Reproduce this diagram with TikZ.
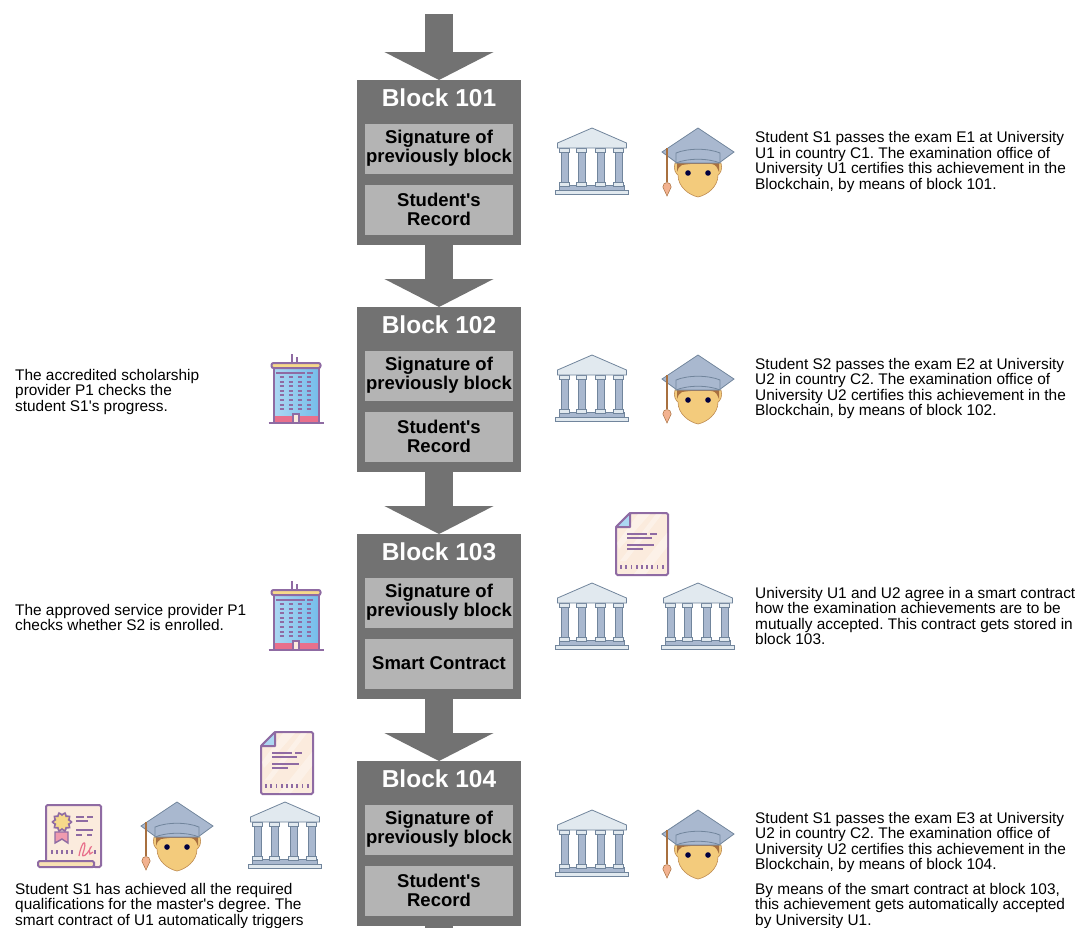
\documentclass[tikz,border=0pt]{standalone}
\usepackage{fontspec}
\setmainfont{Liberation Sans}[Ligatures = TeXOff]
\usetikzlibrary{arrows.meta}

% Colours of the icons.
\definecolor{blockgrey}{HTML}{727272}
\definecolor{fieldgrey}{HTML}{B4B4B4}
\definecolor{roofblue}{HTML}{E1E9EF}
\definecolor{slateblue}{HTML}{A9B8CF}
\definecolor{slateedge}{HTML}{71859C}
\definecolor{skintone}{HTML}{F3CB7C}
\definecolor{hairbrown}{HTML}{A8703F}
\definecolor{tasselpink}{HTML}{F2B290}
\definecolor{iconpurple}{HTML}{8F6BA3}
\definecolor{paperpeach}{HTML}{FBEBDD}
\definecolor{glassblue}{HTML}{75BDEA}
\definecolor{basepink}{HTML}{E8708C}
\definecolor{roofyellow}{HTML}{F6D98A}

\tikzset{
    block_box/.style = {fill = blockgrey, minimum width = 164pt, minimum height = 165pt,
        inner sep = 0pt},
    block_title/.style = {text = white, font = \fontsize{24.5}{27}\selectfont\bfseries},
    field_box/.style = {fill = fieldgrey, minimum width = 148pt, minimum height = 50pt,
        inner sep = 0pt, align = center, font = \fontsize{18.5}{19.3}\selectfont\bfseries},
    block_arrow/.style = {draw = blockgrey, line width = 28pt,
        -{Triangle[length = 28pt, width = 108pt, fill = blockgrey]}},
    note/.style = {anchor = north west, inner sep = 0pt, align = left,
        font = \fontsize{15.4}{15.45}\selectfont\frenchspacing},
    icon_line/.style = {draw = slateedge, line width = 0.8pt},
    % University building, origin in the middle of its lowest step.
    uni/.pic = {
        \filldraw[icon_line, fill = roofblue] (-36.5, -3) rectangle (36.5, 1);
        \filldraw[icon_line, fill = slateblue] (-32.5, -8) rectangle (32.5, -3);
        \foreach \colx in {-27.5, -10.5, 8.5, 26.5} {
            \filldraw[icon_line, fill = slateblue] (\colx - 3.5, -41) rectangle (\colx + 3.5, -11);
            \filldraw[icon_line, fill = roofblue] (\colx - 5, -11) rectangle (\colx + 5, -7);
            \filldraw[icon_line, fill = roofblue] (\colx - 5, -45) rectangle (\colx + 5, -41);
        }
        \filldraw[icon_line, fill = roofblue] (-34.5, -45) -- (-34.5, -50) -- (0, -65) -- (34.5, -50) -- (34.5, -45) -- cycle;
    },
    % Student with a mortar board, origin between the eyes.
    student/.pic = {
        \filldraw[draw = hairbrown!70!skintone, line width = 0.6pt, fill = skintone]
            (-23, -10) .. controls (-25, -4) and (-22, 1) .. (-20, 2)
            .. controls (-20, 14) and (-9, 22) .. (0, 24)
            .. controls (9, 22) and (20, 14) .. (20, 2)
            .. controls (22, 1) and (25, -4) .. (23, -10) -- cycle;
        \fill[hairbrown] (-21, -1) -- (-21, -14) -- (21, -14) -- (21, -1)
            .. controls (19, -6) and (18, -8) .. (14, -9)
            .. controls (5, -9) and (-5, -10) .. (-16, -8)
            .. controls (-19, -7) and (-20, -4) .. cycle;
        \fill[black!75!blue] (-10, 0) circle (2.8) (10, 0) circle (2.8);
        \filldraw[icon_line, fill = slateblue] (0, -45) -- (36, -21) -- (21, -10) -- (-21, -10) -- (-36, -21) -- cycle;
        \filldraw[icon_line, fill = slateblue] (-22, -20) .. controls (-10, -25) and (10, -25) .. (22, -20)
            -- (22, -10) .. controls (10, -15) and (-10, -15) .. (-22, -10) -- cycle;
        \fill[hairbrown] (-31.8, -25) rectangle (-30.2, 9);
        \filldraw[draw = hairbrown, line width = 0.5pt, fill = tasselpink]
            (-31, 23) -- (-35.2, 14) .. controls (-35.2, 8) and (-26.8, 8) .. (-26.8, 14) -- cycle;
    },
    % Office tower, origin in the middle of its base line.
    tower/.pic = {
        \draw[iconpurple, line width = 2pt] (-4, -58) -- (-4, -69);
        \draw[iconpurple, line width = 1.6pt] (1, -58) -- (1, -66);
        \path[left color = glassblue!60!white, right color = glassblue] (-22.5, 0) rectangle (22.5, -56);
        \fill[basepink] (-22.5, 0) rectangle (22.5, -7);
        \draw[iconpurple, line width = 2pt] (-22.5, 0) rectangle (22.5, -56);
        \filldraw[draw = iconpurple, line width = 2pt, fill = roofyellow, rounded corners = 2pt]
            (-24.5, -55) rectangle (24.5, -60);
        \draw[iconpurple, line width = 1.8pt] (-20, -50) -- (9, -50) (11, -50) -- (17, -50);
        \foreach \rowy in {-46, -41.4, ..., -12} {
            \foreach \colx in {-14, -5, 4, 13} {
                \draw[iconpurple, line width = 2pt] (\colx - 2.2, \rowy) -- (\colx + 2.2, \rowy);
            }
        }
        \filldraw[draw = iconpurple, line width = 1.2pt, fill = paperpeach] (-3, 0) rectangle (3, -9);
        \draw[iconpurple, line width = 2pt] (-27.5, 0) -- (27.5, 0);
    },
    % Contract sheet, origin at its top left corner.
    sheet/.pic = {
        \filldraw[draw = iconpurple, line width = 2pt, fill = paperpeach, rounded corners = 1.5pt]
            (14, 0) -- (52, 0) -- (52, 62) -- (0, 62) -- (0, 14) -- cycle;
        \fill[white, opacity = 0.35] (22, 1) -- (34, 1) -- (3, 36) -- (1, 30) -- cycle
            (40, 1) -- (46, 1) -- (10, 48) -- (4, 48) -- cycle
            (51, 20) -- (51, 34) -- (30, 61) -- (18, 61) -- cycle;
        \filldraw[draw = iconpurple, line width = 2pt, fill = glassblue!60!white, line join = round]
            (14, 0) -- (14, 14) -- (0, 14) -- cycle;
        \draw[iconpurple, line width = 1.8pt] (11, 21) -- (31, 21) (34, 21) -- (41, 21)
            (11, 25) -- (36, 25) (11, 32) -- (38, 32) (11, 36) -- (27, 36);
        \foreach \dotx in {5, 10.2, ..., 47} {
            \draw[iconpurple, line width = 1.8pt] (\dotx, 52) -- (\dotx, 56);
        }
    },
    % Certificate with seal, origin at the lower left corner of the scroll.
    diploma/.pic = {
        \filldraw[draw = iconpurple, line width = 2pt, fill = paperpeach, rounded corners = 1.5pt]
            (8, -3) -- (8, -62) -- (63, -62) -- (63, 0) -- (56, 0) -- cycle;
        \filldraw[draw = iconpurple, line width = 2pt, fill = roofyellow!50!paperpeach, rounded corners = 1.5pt]
            (0, 0) -- (0, -6) -- (56, -6) -- (56, 0) -- cycle;
        \filldraw[draw = iconpurple, line width = 1.4pt, fill = basepink!70!white]
            (17, -35) -- (17, -24) -- (24, -28) -- (30, -24) -- (30, -35) -- cycle;
        \filldraw[draw = iconpurple, line width = 1.6pt, fill = roofyellow]
            plot[domain = 0:360, samples = 41] ({24 + (8.2 + 1.2 * cos(10 * \x)) * cos(\x)},
                {-45 + (8.2 + 1.2 * cos(10 * \x)) * sin(\x)}) -- cycle;
        \draw[iconpurple, line width = 1.6pt] (38, -50) -- (46, -50) (49, -50) -- (55, -50)
            (38, -46) -- (50, -46) (38, -37) -- (55, -37) (38, -32) -- (44, -32) (49, -32) -- (54, -32);
        \foreach \dotx in {14, 19, ..., 37} {
            \draw[iconpurple, line width = 1.6pt] (\dotx, -13) -- (\dotx, -17);
        }
        \draw[iconpurple, line width = 1.6pt] (57, -13) -- (57, -17);
        \draw[basepink, line width = 1.2pt] (41, -11) .. controls (44, -28) and (50, -28) .. (45, -14)
            .. controls (43, -8) and (49, -12) .. (52, -18) .. controls (55, -22) and (50, -20) .. (52, -13) -- (55, -15);
    }
}

\begin{document}
\begin{tikzpicture}[x = 1pt, y = -1pt]

    \useasboundingbox (0, 0) rectangle (1078, 927);

    % Blocks of the chain.
    \foreach \blockname/\blocktop/\fieldtext in {%
            101/80/{Student's\\Record},
            102/307/{Student's\\Record},
            103/534/{Smart Contract},
            104/761/{Student's\\Record}} {
        \node[block_box, anchor = north] (b\blockname) at (439, \blocktop) {};
        \node[block_title] (title\blockname) at (439, \blocktop + 18) {Block \blockname};
        \node[field_box] (sig\blockname) at (439, \blocktop + 68.5) {Signature of\\previously block};
        \node[field_box] (rec\blockname) at (439, \blocktop + 129.5) {\fieldtext};
    }

    \coordinate (chainstart) at (439, 14);
    \coordinate (chainend) at (439, 940);
    \draw[block_arrow] (chainstart) -- (b101.north);
    \draw[block_arrow] (b101.south) -- (b102.north);
    \draw[block_arrow] (b102.south) -- (b103.north);
    \draw[block_arrow] (b103.south) -- (b104.north);
    \draw[draw = blockgrey, line width = 28pt] (b104.south) -- (chainend);

    % Right hand side.
    \pic at (592, 193) {uni};
    \pic at (698, 173) {student};
    \node[note] (note101) at (755, 131.5) {Student S1 passes the exam E1 at University\\U1 in country C1. The examination office of\\University U1 certifies this achievement in the\\Blockchain, by means of block 101.};

    \pic at (592, 420) {uni};
    \pic at (698, 400) {student};
    \node[note] (note102) at (755, 358) {Student S2 passes the exam E2 at University\\U2 in country C2. The examination office of\\University U2 certifies this achievement in the\\Blockchain, by means of block 102.};

    \pic at (616, 513) {sheet};
    \pic at (592, 648) {uni};
    \pic at (698, 648) {uni};
    \node[note] (note103) at (755, 587) {University U1 and U2 agree in a smart contract\\how the examination achievements are to be\\mutually accepted. This contract gets stored in\\block 103.};

    \pic at (592, 875) {uni};
    \pic at (698, 855) {student};
    \node[note] (note104) at (755, 812) {Student S1 passes the exam E3 at University\\U2 in country C2. The examination office of\\University U2 certifies this achievement in the\\Blockchain, by means of block 104.};
    \node[note] (note104b) at (755, 883) {By means of the smart contract at block 103,\\this achievement gets automatically accepted\\by University U1.};

    % Left hand side.
    \pic at (296, 423) {tower};
    \node[note] (notep1) at (15, 369) {The accredited scholarship\\provider P1 checks the\\student S1's progress.};

    \pic at (296, 650) {tower};
    \node[note] (notep2) at (15, 604) {The approved service provider P1\\checks whether S2 is enrolled.};

    \pic at (261, 732) {sheet};
    \pic at (38, 867) {diploma};
    \pic at (177, 847) {student};
    \pic at (285, 867) {uni};
    \node[note] (noteend) at (15, 883) {Student S1 has achieved all the required\\qualifications for the master's degree. The\\smart contract of U1 automatically triggers};
\end{tikzpicture}
\end{document}
